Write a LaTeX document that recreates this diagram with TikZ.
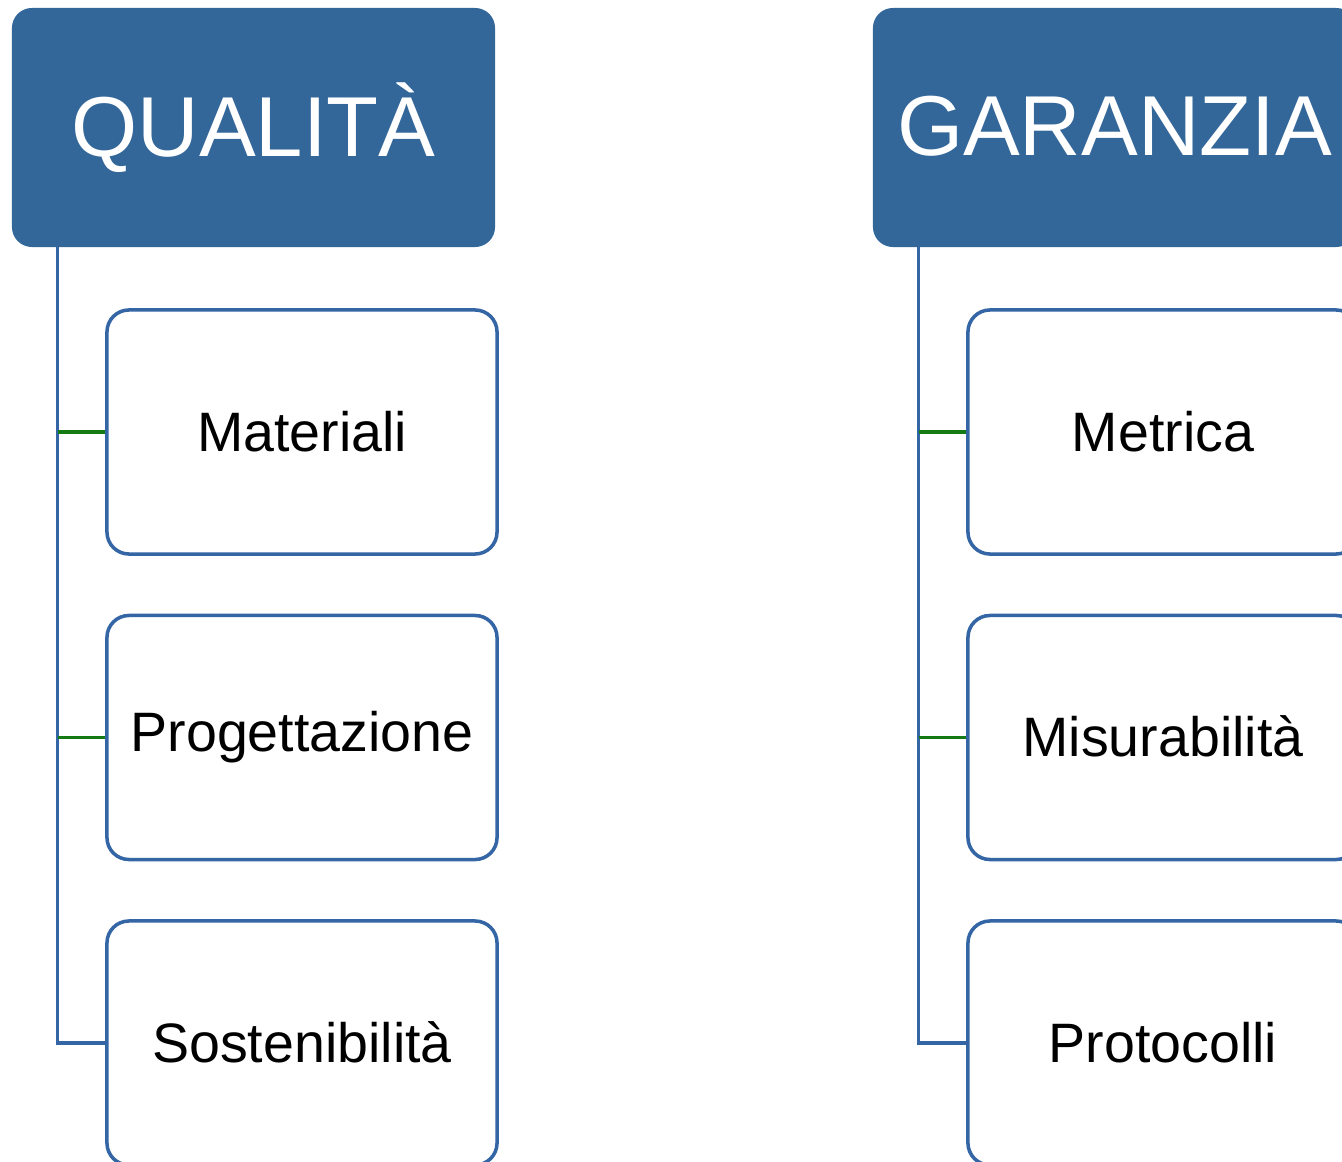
\documentclass[tikz,border=0pt]{standalone}
\usepackage{fontspec}
\setmainfont{Liberation Sans}
\usepackage{tikz}
\usetikzlibrary{
	positioning,
	calc
}
\definecolor{main}{RGB}{51,102,153}
\definecolor{edge}{RGB}{52,101,164}
\definecolor{tick}{RGB}{20,122,20}
\tikzset{
  % node
	csthead/.style    ={fill=main,draw=none,text=white,rounded corners=0.5cm,
	                    minimum width=12.075cm,minimum height=5.975cm,
	                    font=\fontsize{60.5pt}{70pt}\selectfont},
	cstitem/.style    ={fill=white,draw=edge,text=black,rounded corners=0.55cm,line width=2.5pt,
	                    minimum width=9.75cm,minimum height=6.1cm,
	                    font=\fontsize{39.5pt}{46pt}\selectfont},
  % line
	csttree/.style    ={draw=edge,line width=2.5pt},
	csttick/.style    ={draw=tick,line width=2.5pt}
}
\begin{document}
\begin{tikzpicture}[x=0.025cm,y=-0.025cm]
	\useasboundingbox (0,0) rectangle (1342,1162);
	\clip (0,0) rectangle (1342,1162);
	% QUALITA
	\node[csthead] (qual) at (253.5,127.5) {\raisebox{3pt}{QUALITÀ}};
	\coordinate (qspine) at ($(qual.south west)+(46,0)$);
	\node[cstitem] (mat)  at (302,432)   {\raisebox{1.5pt}{Materiali}};
	\node[cstitem] (prog) at (302,737.5) {\raisebox{1.5pt}{Progettazione}};
	\node[cstitem] (sost) at (302,1043)  {\raisebox{1.5pt}{Sostenibilità}};
	\draw[csttree] (qspine) |- (sost.west);
	\draw[csttick] (qspine |- mat.west) -- (mat.west);
	\draw[csttick] (qspine |- prog.west) -- (prog.west);
	% GARANZIA
	\node[csthead] (gar) at (1114.5,127.5) {\raisebox{3pt}{GARANZIA}};
	\coordinate (gspine) at ($(gar.south west)+(46,0)$);
	\node[cstitem] (metr) at (1163,432)   {\raisebox{1.5pt}{Metrica}};
	\node[cstitem] (mis)  at (1163,737.5) {\raisebox{1.5pt}{Misurabilità}};
	\node[cstitem] (prot) at (1163,1043)  {\raisebox{1.5pt}{Protocolli}};
	\draw[csttree] (gspine) |- (prot.west);
	\draw[csttick] (gspine |- metr.west) -- (metr.west);
	\draw[csttick] (gspine |- mis.west) -- (mis.west);
\end{tikzpicture}
\end{document}
